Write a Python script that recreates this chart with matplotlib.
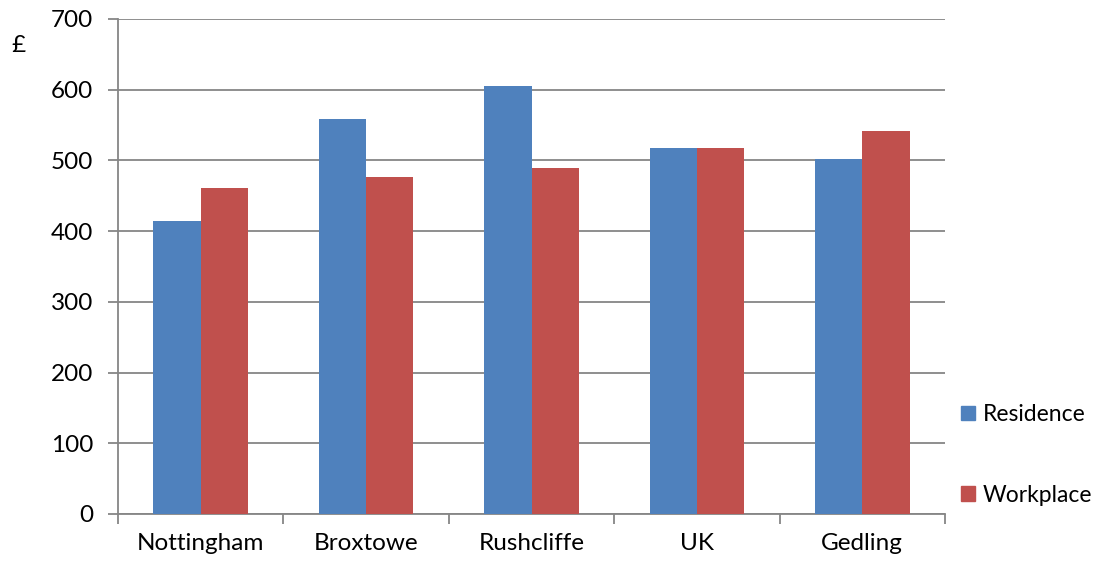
import numpy as np
import matplotlib.pyplot as plt
from matplotlib.patches import Patch

categories = ["Nottingham", "Broxtowe", "Rushcliffe", "UK", "Gedling"]
residence = [415, 558, 605, 517, 502]
workplace = [461, 476, 489, 517, 541]
yticks = [0, 100, 200, 300, 400, 500, 600, 700]

BLUE = "#4F81BD"
RED = "#C0504D"
GRID = "#868686"
FS = 17.5

plt.rcParams["font.family"] = ["Lato", "DejaVu Sans"]

fig = plt.figure(figsize=(11.04, 5.63), dpi=100)
ax = fig.add_axes([118 / 1104, 1 - 514 / 563, (945 - 118) / 1104, (514 - 19) / 563])

x = np.arange(len(categories))
w = 1 / 3.5
ax.bar(x - w / 2, residence, w, color=BLUE, zorder=3)
ax.bar(x + w / 2, workplace, w, color=RED, zorder=3)

ax.set_xlim(-0.5, len(categories) - 0.5)
ax.set_ylim(0, 700)
ax.set_yticks(yticks)
ax.yaxis.grid(True, color=GRID, lw=1.3, zorder=0)

# category boundary ticks
ax.set_xticks(np.arange(len(categories) + 1) - 0.5)
ax.set_xticklabels([])
ax.set_xticks(x, minor=True)
ax.set_xticklabels(categories, minor=True, fontsize=FS)
ax.tick_params(axis="x", which="minor", length=0, pad=14)
ax.tick_params(axis="x", which="major", length=7, color=GRID, width=1.3)
ax.tick_params(axis="y", length=7, color=GRID, width=1.3, labelsize=FS, pad=11)

for s in ["top", "right"]:
    ax.spines[s].set_visible(False)
for s in ["left", "bottom"]:
    ax.spines[s].set_color(GRID)
    ax.spines[s].set_linewidth(1.3)

fig.text(11 / 1104, 1 - 45 / 563, "£", fontsize=FS, va="center", ha="left")

handles = [Patch(color=BLUE, label="Residence"), Patch(color=RED, label="Workplace")]
fig.legend(handles=handles, loc="center left", bbox_to_anchor=(961 / 1104, 1 - 455 / 563),
           frameon=False, fontsize=16.5, handlelength=0.6, handleheight=0.6,
           handletextpad=0.35, labelspacing=2.6, borderpad=0, borderaxespad=0)

fig.savefig("out.png", dpi=100)
